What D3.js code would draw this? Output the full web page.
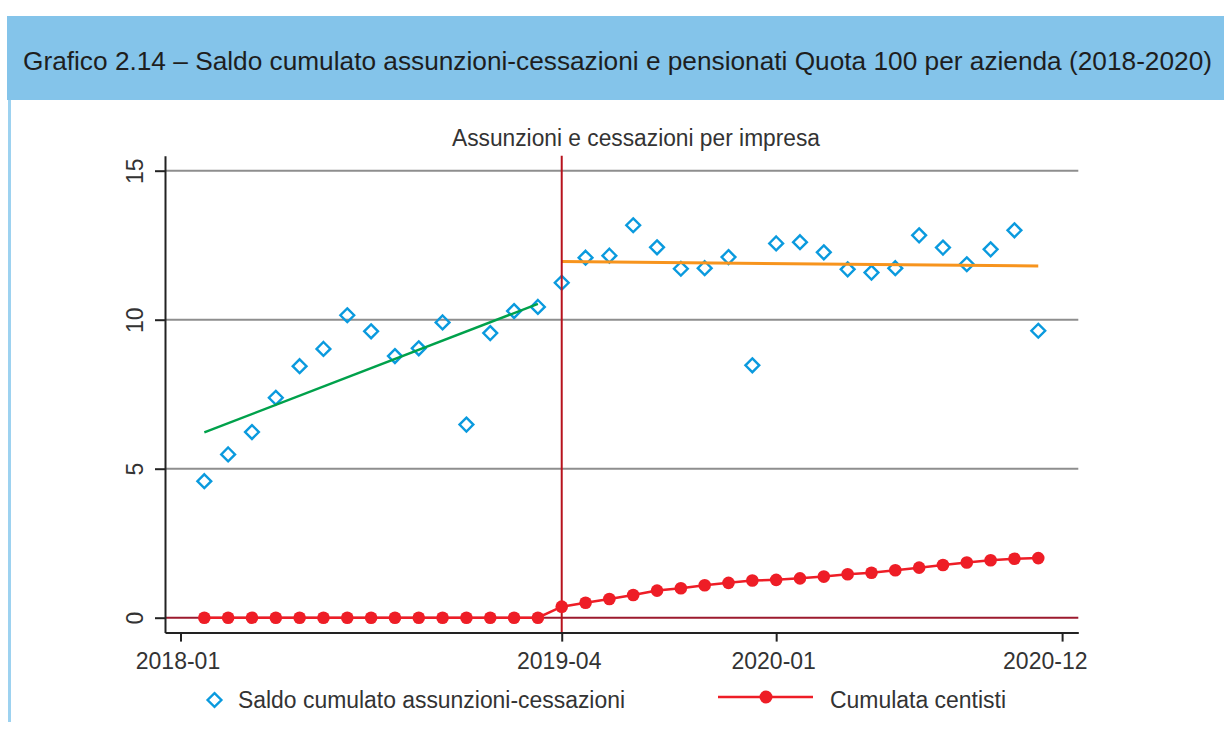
<!DOCTYPE html>
<html>
<head>
<meta charset="utf-8">
<script src="https://cdn.jsdelivr.net/npm/d3@7"></script>
<style>
  html, body { margin: 0; padding: 0; background: #fff; }
  svg { display: block; }
  text { font-family: "Liberation Sans", Arial, sans-serif; }
</style>
</head>
<body>
<svg id="chart" width="1224" height="729"></svg>
<script>
// ---- data ----
const titleText = "Grafico 2.14 – Saldo cumulato assunzioni-cessazioni e pensionati Quota 100 per azienda (2018-2020)";
const subtitleText = "Assunzioni e cessazioni per impresa";
const legendLabels = ["Saldo cumulato assunzioni-cessazioni", "Cumulata centisti"];

// period index (monthly observations)
const period = [0,1,2,3,4,5,6,7,8,9,10,11,12,13,14,15,16,17,18,19,20,21,22,23,24,25,26,27,28,29,30,31,32,33,34,35];

// Saldo cumulato assunzioni-cessazioni (diamonds)
const saldo = [4.58,5.48,6.23,7.38,8.44,9.02,10.15,9.61,8.78,9.04,9.91,6.48,9.55,10.29,10.43,11.24,
               12.08,12.15,13.17,12.43,11.71,11.73,12.10,8.47,12.56,12.60,12.26,11.69,11.58,11.73,
               12.83,12.42,11.86,12.36,13.00,9.63];

// Cumulata centisti (red dots)
const centisti = [0,0,0,0,0,0,0,0,0,0,0,0,0,0,0,0.37,0.50,0.63,0.76,0.91,0.99,1.09,1.17,1.25,1.27,
                  1.32,1.38,1.46,1.51,1.59,1.68,1.77,1.85,1.93,1.98,2.00];

// linear fits (endpoints)
const fitBefore = [{p: 0, v: 6.22}, {p: 14, v: 10.53}];
const fitAfter  = [{p: 15, v: 11.95}, {p: 35, v: 11.80}];

const breakPeriod = 15;

const xTickValues = [-1, 15, 24, 36];
const xTickLabels = ["2018-01", "2019-04", "2020-01", "2020-12"];
const yTickValues = [0, 5, 10, 15];
const yGridValues = [5, 10, 15];

// ---- layout ----
const svg = d3.select("#chart");
const plot = {left: 165, right: 1078.3, top: 155.8, bottom: 632.6};

const x = d3.scaleLinear().domain([-1.65, 36.68]).range([plot.left, plot.right]);
const y = d3.scaleLinear().domain([-0.5, 15.5]).range([plot.bottom, plot.top]);

const C = {
  band: "#84c4ea",
  border: "#9dd2f0",
  grid: "#8e8e8e",
  zero: "#9c1a2e",
  vline: "#b7121d",
  diamond: "#0a9ade",
  red: "#ee1d26",
  green: "#00a14b",
  orange: "#f7941d",
  axis: "#222",
  text: "#333"
};

// header band
svg.append("rect").attr("x", 7).attr("y", 16).attr("width", 1217).attr("height", 84).attr("fill", C.band);
svg.append("line").attr("x1", 9.5).attr("x2", 9.5).attr("y1", 100).attr("y2", 722)
  .attr("stroke", C.border).attr("stroke-width", 3);
const title = svg.append("text").attr("x", 23).attr("y", 70)
  .attr("font-size", 26).attr("fill", "#1e1e1e")
  .text(titleText);
// fit title into the band width
{
  const natural = title.node().getComputedTextLength();
  const target = 1189;
  if (natural > target) title.attr("font-size", 26 * target / natural);
  else title.attr("textLength", target).attr("lengthAdjust", "spacingAndGlyphs");
}

// subtitle
svg.append("text").attr("x", 452).attr("y", 146)
  .attr("font-size", 23).attr("fill", C.text)
  .attr("textLength", 368).attr("lengthAdjust", "spacingAndGlyphs")
  .text(subtitleText);

// gridlines
svg.append("g").selectAll("line").data(yGridValues).join("line")
  .attr("x1", plot.left).attr("x2", plot.right)
  .attr("y1", d => y(d)).attr("y2", d => y(d))
  .attr("stroke", C.grid).attr("stroke-width", 2);

// zero line
svg.append("line").attr("x1", plot.left).attr("x2", plot.right)
  .attr("y1", y(0)).attr("y2", y(0))
  .attr("stroke", C.zero).attr("stroke-width", 2);

// diamonds
const diamondPath = r => `M0,${-r}L${r},0L0,${r}L${-r},0Z`;
svg.append("g").selectAll("path").data(period).join("path")
  .attr("transform", (d, i) => `translate(${x(d)},${y(saldo[i])})`)
  .attr("d", diamondPath(6.9))
  .attr("fill", "none").attr("stroke", C.diamond).attr("stroke-width", 2.4);

// fit lines
const fitLine = d3.line().x(d => x(d.p)).y(d => y(d.v));
svg.append("path").attr("d", fitLine(fitBefore)).attr("fill", "none")
  .attr("stroke", C.green).attr("stroke-width", 2.4);
svg.append("path").attr("d", fitLine(fitAfter)).attr("fill", "none")
  .attr("stroke", C.orange).attr("stroke-width", 3);

// vertical break line
svg.append("line").attr("x1", x(breakPeriod)).attr("x2", x(breakPeriod))
  .attr("y1", plot.top).attr("y2", plot.bottom)
  .attr("stroke", C.vline).attr("stroke-width", 2);

// red series
const redLine = d3.line().x(d => x(d)).y((d, i) => y(centisti[i]));
svg.append("path").attr("d", redLine(period)).attr("fill", "none")
  .attr("stroke", C.red).attr("stroke-width", 2.5);
svg.append("g").selectAll("circle").data(period).join("circle")
  .attr("cx", d => x(d)).attr("cy", (d, i) => y(centisti[i]))
  .attr("r", 6.3).attr("fill", C.red);

// axes
const xAxis = d3.axisBottom(x).tickValues(xTickValues)
  .tickFormat((d, i) => xTickLabels[i]).tickSize(9).tickSizeOuter(0);
const gx = svg.append("g").attr("transform", `translate(0,${plot.bottom})`).call(xAxis);
gx.select(".domain").attr("stroke", C.axis).attr("stroke-width", 2);
gx.selectAll(".tick line").attr("stroke", C.axis).attr("stroke-width", 2);
gx.selectAll(".tick text").attr("font-size", 23).attr("fill", C.text)
  .attr("font-family", "'Liberation Sans', Arial, sans-serif")
  .attr("y", 36).attr("dy", 0).attr("dx", -3);
// keep last label inside the graph region
gx.selectAll(".tick text").each(function(d) {
  const w = this.getComputedTextLength();
  const tx = x(d);
  const maxRight = 1087;
  if (tx + w / 2 - 3 > maxRight) d3.select(this).attr("dx", maxRight - (tx + w / 2));
});

const yAxis = d3.axisLeft(y).tickValues(yTickValues).tickSize(10).tickSizeOuter(0);
const gy = svg.append("g").attr("transform", `translate(${plot.left},0)`).call(yAxis);
gy.select(".domain").attr("stroke", C.axis).attr("stroke-width", 2);
gy.selectAll(".tick line").attr("stroke", C.axis).attr("stroke-width", 2);
gy.selectAll(".tick text").attr("font-size", 23).attr("fill", C.text)
  .attr("font-family", "'Liberation Sans', Arial, sans-serif")
  .attr("transform", "rotate(-90)").attr("x", 0).attr("y", -22).attr("dy", 0)
  .attr("text-anchor", "middle");

// legend
const lg = svg.append("g");
lg.append("path").attr("transform", "translate(214.5,700)").attr("d", diamondPath(6.9))
  .attr("fill", "none").attr("stroke", C.diamond).attr("stroke-width", 2.4);
lg.append("text").attr("x", 238).attr("y", 708).attr("font-size", 23).attr("fill", C.text)
  .attr("textLength", 387).attr("lengthAdjust", "spacingAndGlyphs").text(legendLabels[0]);
lg.append("line").attr("x1", 718).attr("x2", 813).attr("y1", 697).attr("y2", 697)
  .attr("stroke", C.red).attr("stroke-width", 2.5);
lg.append("circle").attr("cx", 766).attr("cy", 697).attr("r", 6.5).attr("fill", C.red);
lg.append("text").attr("x", 830).attr("y", 708).attr("font-size", 23).attr("fill", C.text)
  .attr("textLength", 176).attr("lengthAdjust", "spacingAndGlyphs").text(legendLabels[1]);
</script>
</body>
</html>
